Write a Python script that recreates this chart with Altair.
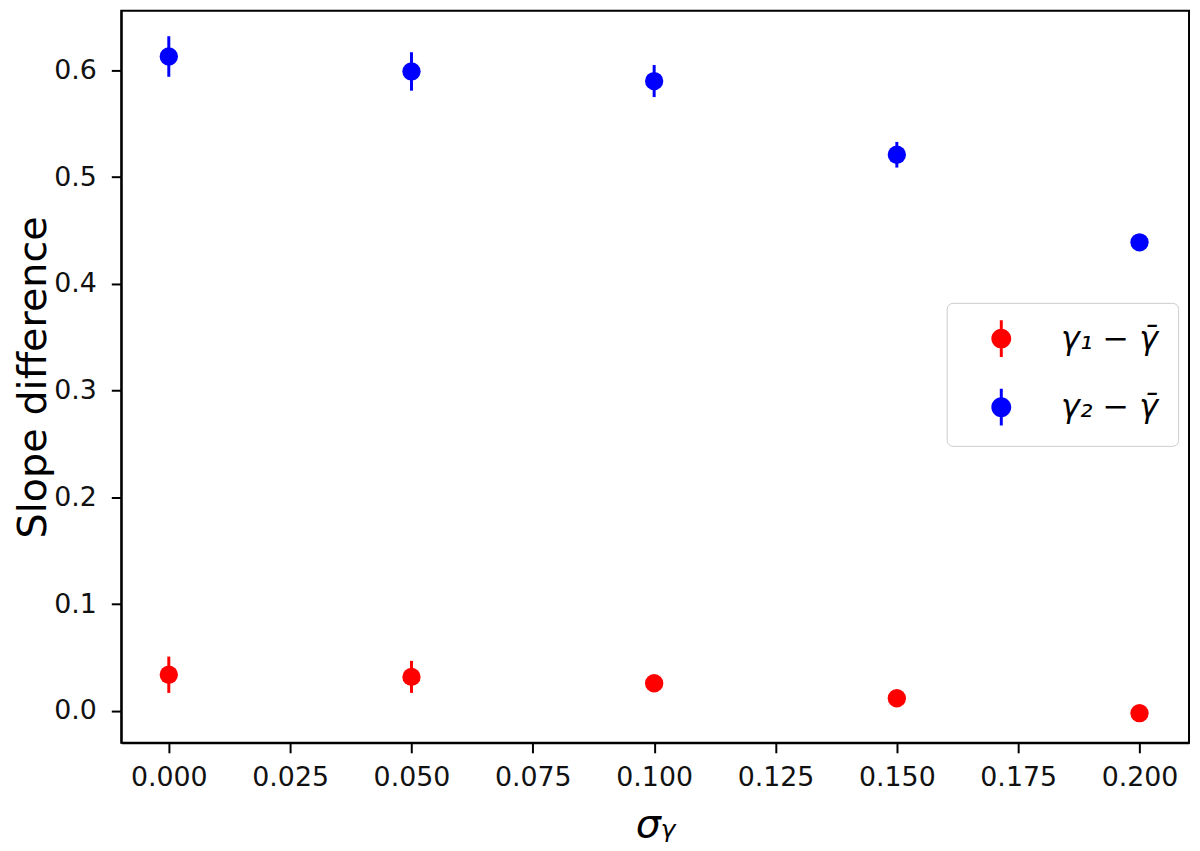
import altair as alt
import pandas as pd

sigma = [0.000, 0.050, 0.100, 0.150, 0.200]
gamma1_diff = [0.034, 0.032, 0.026, 0.012, -0.002]
gamma1_err = [0.017, 0.015, 0.007, 0.006, 0.005]
gamma2_diff = [0.613, 0.599, 0.590, 0.521, 0.439]
gamma2_err = [0.019, 0.018, 0.015, 0.012, 0.007]
series_names = ["γ₁ − γ̄", "γ₂ − γ̄"]
series_colors = ["#ff0000", "#0000ff"]
x_ticks = [0.0, 0.025, 0.05, 0.075, 0.1, 0.125, 0.15, 0.175, 0.2]
y_ticks = [0.0, 0.1, 0.2, 0.3, 0.4, 0.5, 0.6]

rows = []
for name, vals, errs in [(series_names[0], gamma1_diff, gamma1_err),
                         (series_names[1], gamma2_diff, gamma2_err)]:
    for s, v, e in zip(sigma, vals, errs):
        rows.append({"sigma": s, "value": v, "lo": v - e, "hi": v + e, "series": name})
df = pd.DataFrame(rows)

FONT = "DejaVu Sans"
xscale = alt.Scale(domain=[-0.0098, 0.2102], nice=False, zero=False)
yscale = alt.Scale(domain=[-0.0298, 0.6558], nice=False, zero=False)
color_scale = alt.Scale(domain=series_names, range=series_colors)

legend_path = ("M-0.15,-1.85H0.15V1.85H-0.15Z "
               "M1,0A1,1 0 1,1 -1,0A1,1 0 1,1 1,0Z")

legend = alt.Legend(
    title=None, orient="none", legendX=831, legendY=294,
    symbolType=legend_path, symbolSize=400, symbolStrokeWidth=0,
    symbolOffset=19, padding=20, rowPadding=31, labelOffset=44,
    labelFontSize=32, labelFont=FONT, labelFontStyle="italic",
    labelColor="black", strokeColor="#cccccc", fillColor="white",
    cornerRadius=6, labelLimit=300,
)

x_axis = alt.Axis(values=x_ticks, format=".3f", title="σᵧ", grid=False,
                  labelFontSize=27, titleFontSize=40, titleFontStyle="italic",
                  titleFontWeight="normal", labelPadding=12, titlePadding=14,
                  tickSize=10, tickWidth=2, tickColor="black", domainColor="black",
                  domainWidth=2, labelColor="#111111", titleColor="black",
                  labelFont=FONT, titleFont=FONT)
y_axis = alt.Axis(values=y_ticks, format=".1f", title="Slope difference", grid=False,
                  labelFontSize=27, titleFontSize=40, titleFontWeight="normal",
                  labelPadding=15, titlePadding=0,
                  tickSize=10, tickWidth=2, tickColor="black", domainColor="black",
                  domainWidth=2, labelColor="#111111", titleColor="black",
                  labelFont=FONT, titleFont=FONT)

bars = alt.Chart(df).mark_rule(strokeWidth=3).encode(
    x=alt.X("sigma:Q", scale=xscale, axis=x_axis),
    y=alt.Y("lo:Q", scale=yscale, axis=y_axis),
    y2="hi:Q",
    color=alt.Color("series:N", scale=color_scale, legend=legend),
)

points = alt.Chart(df).mark_circle(size=340, opacity=1).encode(
    x=alt.X("sigma:Q", scale=xscale),
    y=alt.Y("value:Q", scale=yscale),
    color=alt.Color("series:N", scale=color_scale, legend=legend),
)

chart = alt.layer(bars, points).properties(
    width=1075, height=737,
    autosize=alt.AutoSizeParams(type="none"),
    padding={"left": 114, "top": 0, "right": 3, "bottom": 100},
).configure_view(stroke="black", strokeWidth=2)

chart.save("out.html", embed_options={"renderer": "svg", "actions": False})
